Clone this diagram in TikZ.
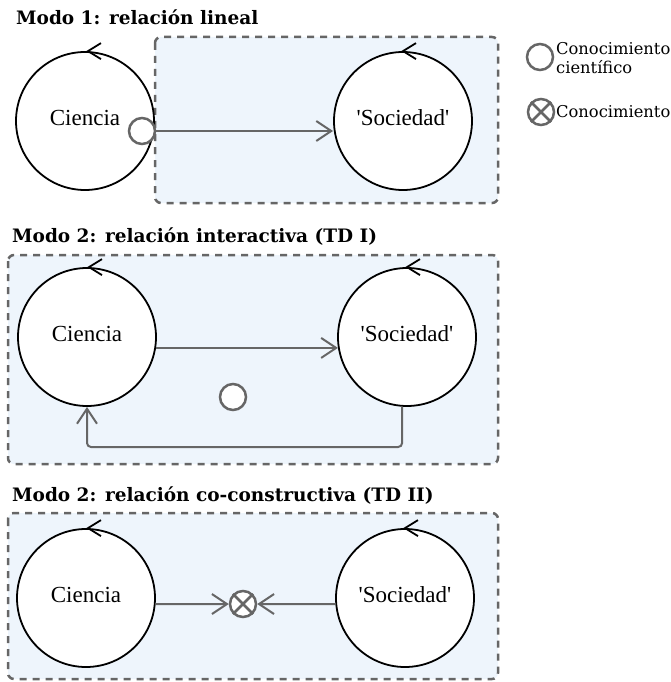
\documentclass[tikz,border=0pt]{standalone}
\usepackage{fontspec}
\setmainfont{DejaVu Serif}
\newfontfamily\circfont{Liberation Serif}
\usetikzlibrary{arrows.meta,calc}
\definecolor{boxfill}{HTML}{EEF5FC}
\definecolor{linegray}{HTML}{666666}
\begin{document}
\begin{tikzpicture}[x=1pt,y=-1pt,
  panel/.style={draw=linegray, fill=boxfill, line width=2.5pt, dash pattern=on 7pt off 6pt, rounded corners=6pt},
  bigc/.style={circle, draw=black, fill=white, line width=1.8pt, minimum size=138pt, inner sep=0pt,
    font=\circfont\fontsize{23}{27}\selectfont, text depth=6pt},
  smallc/.style={circle, draw=linegray, fill=white, line width=2.5pt, minimum size=26pt, inner sep=0pt},
  xcross/.style={smallc},
  conn/.style={draw=linegray, line width=2pt, -{Straight Barb[length=15pt,width=20pt]}},
  topmark/.style={draw=black, line width=1.8pt},
  crossline/.style={draw=linegray, line width=2.5pt},
  title/.style={font=\bfseries\fontsize{18.5}{22}\selectfont, anchor=west, inner sep=0pt},
  legend/.style={font=\fontsize{16.3}{18.5}\selectfont, anchor=west, inner sep=0pt, align=left}]
\useasboundingbox (0,0) rectangle (671,682);

% titles
\node[title] (t1) at (16,17) {Modo 1: relación lineal};
\node[title] (t2) at (12,237) {Modo 2: relación interactiva (TD I)};
\node[title] (t3) at (12,496) {Modo 2: relación co-constructiva (TD II)};

% panels
\draw[panel] (155,37) rectangle (498,203);
\draw[panel] (8,255) rectangle (498,464);
\draw[panel] (8,513) rectangle (498,679);

% panel 1
\node[bigc] (c1) at (85,121) {Ciencia};
\node[bigc] (s1) at (403,121) {\textquotesingle Sociedad\textquotesingle};
\node[smallc] (k1) at (142,131) {};
\draw[conn] (k1.east) -- (k1.east -| s1.west);

% panel 2
\node[bigc] (c2) at (87,337) {Ciencia};
\node[bigc] (s2) at (407,337) {\textquotesingle Sociedad\textquotesingle};
\draw[conn] (c2.-9) -- (s2.189);
\node[smallc] (k2) at (233,397) {};
\coordinate (r2) at (87,447);
\draw[conn, rounded corners=4pt] (s2.-94) |- (r2) -- (c2.south);

% panel 3
\node[bigc] (c3) at (86,598) {Ciencia};
\node[bigc] (s3) at (405,598) {\textquotesingle Sociedad\textquotesingle};
\node[xcross] (x3) at (243,604) {};
\draw[crossline] (x3.45) -- (x3.225) (x3.135) -- (x3.-45);
\draw[conn] (c3.-5) -- (x3.west);
\draw[conn] (s3.185) -- (x3.east);

% circulation marks
\foreach \n/\dx in {c1/3, s1/0, c2/2, s2/0, c3/2, s3/0}
  \draw[topmark] ([xshift=\dx pt]\n.north) ++(13,-8) -- ++(-13,8) -- ++(13,8);

% legend
\node[smallc] (k0) at (540,57) {};
\node[legend] (l1) at (556,58) {Conocimiento\\científico};
\node[xcross] (x0) at (541,112) {};
\draw[crossline] (x0.45) -- (x0.225) (x0.135) -- (x0.-45);
\node[legend] (l2) at (556,112) {Conocimiento};
\end{tikzpicture}
\end{document}
